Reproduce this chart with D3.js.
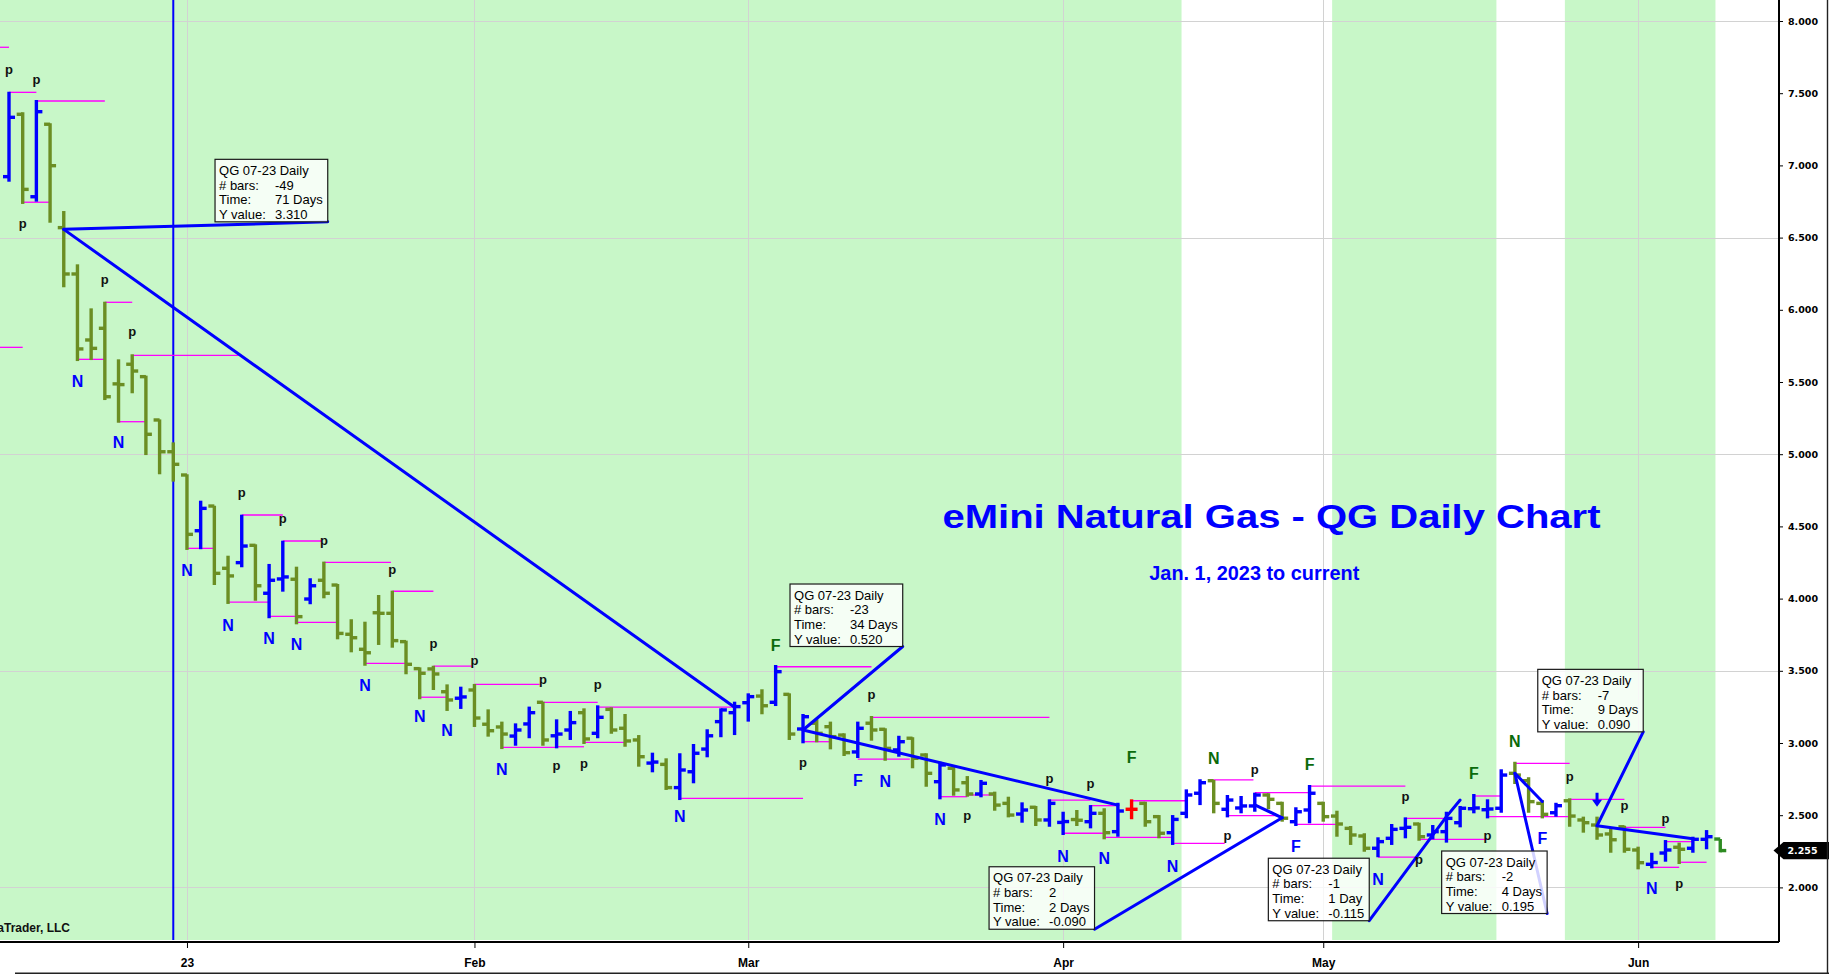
<!DOCTYPE html>
<html>
<head>
<meta charset="utf-8">
<title>eMini Natural Gas - QG Daily Chart</title>
<script src="https://cdnjs.cloudflare.com/ajax/libs/d3/7.8.5/d3.min.js"></script>
<style>
	body { margin: 0; background: #fff; overflow: hidden; }
	svg { display: block; font-family: "Liberation Sans", Arial, sans-serif; }
</style>
</head>
<body>
<script>
(function() {

	var width = 1829;
	var height = 974;
	var plotRight = 1779;
	var plotBottom = 940;

	// QG 07-23 daily bars, oldest first (index 13 = first session of 2023)
	var opens = [6.922,7.354,6.783,7.285,6.569,6.248,5.791,5.872,5.487,5.623,
		5.537,5.237,5.017,4.856,4.470,4.641,4.210,4.249,4.369,4.037,
		4.136,4.134,3.997,4.127,4.094,3.753,3.649,3.902,3.898,3.702,
		3.515,3.513,3.355,3.310,3.367,3.130,3.111,3.048,3.132,3.282,
		3.050,3.090,3.210,3.067,3.233,3.102,3.021,2.861,2.852,2.691,
		2.801,2.958,3.148,3.210,3.279,3.325,3.282,3.337,3.097,3.137,
		3.113,3.055,2.938,3.137,3.095,2.952,3.033,2.917,2.732,2.825,
		2.725,2.647,2.647,2.582,2.508,2.555,2.467,2.450,2.470,2.455,
		2.513,2.386,2.541,2.582,2.490,2.379,2.513,2.652,2.739,2.541,
		2.550,2.564,2.640,2.582,2.455,2.536,2.582,2.494,2.409,2.356,
		2.271,2.340,2.409,2.439,2.363,2.386,2.448,2.545,2.538,2.548,
		2.790,2.739,2.582,2.517,2.600,2.467,2.432,2.370,2.420,2.259,
		2.160,2.238,2.278,2.271,2.333,2.335];
	var highs = [7.510,7.368,7.453,7.292,6.684,6.315,6.010,6.056,5.657,5.692,
		5.544,5.241,5.082,4.861,4.678,4.643,4.297,4.581,4.376,4.240,
		4.401,4.221,4.141,4.256,4.101,3.857,3.840,4.025,4.055,3.709,
		3.524,3.535,3.406,3.390,3.409,3.233,3.148,3.136,3.252,3.286,
		3.164,3.222,3.240,3.261,3.247,3.201,3.055,2.933,2.894,2.929,
		2.993,3.095,3.240,3.286,3.344,3.372,3.540,3.344,3.201,3.164,
		3.148,3.067,3.148,3.187,3.102,3.050,3.040,2.929,2.870,2.836,
		2.771,2.744,2.663,2.628,2.589,2.564,2.610,2.524,2.536,2.570,
		2.548,2.586,2.610,2.593,2.501,2.501,2.679,2.749,2.744,2.640,
		2.633,2.656,2.652,2.593,2.555,2.709,2.593,2.531,2.425,2.375,
		2.347,2.439,2.485,2.448,2.432,2.524,2.564,2.647,2.610,2.818,
		2.870,2.763,2.605,2.586,2.617,2.490,2.490,2.409,2.427,2.282,
		2.240,2.328,2.310,2.351,2.397,2.335];
	var lows = [6.887,6.733,6.749,6.603,6.156,5.645,5.652,5.375,5.218,5.422,
		4.994,4.861,4.810,4.337,4.342,4.094,3.963,4.217,3.985,3.864,
		4.048,3.822,3.961,4.002,3.718,3.628,3.535,3.679,3.660,3.476,
		3.303,3.367,3.222,3.236,3.111,3.044,2.958,2.981,3.033,2.981,
		2.963,3.021,2.993,3.033,3.064,2.974,2.836,2.797,2.675,2.605,
		2.721,2.901,3.040,3.055,3.148,3.199,3.256,3.021,2.998,3.005,
		2.956,2.910,2.896,3.016,2.877,2.905,2.825,2.697,2.610,2.635,
		2.628,2.624,2.531,2.485,2.448,2.425,2.420,2.363,2.425,2.409,
		2.333,2.351,2.472,2.420,2.340,2.294,2.479,2.570,2.513,2.485,
		2.513,2.524,2.541,2.455,2.425,2.444,2.455,2.351,2.294,2.247,
		2.209,2.294,2.340,2.323,2.333,2.310,2.416,2.513,2.478,2.517,
		2.716,2.517,2.478,2.490,2.420,2.379,2.330,2.240,2.240,2.125,
		2.132,2.178,2.162,2.240,2.264,2.243];
	var closes = [7.333,6.834,7.372,6.998,6.248,5.729,5.733,5.398,5.482,5.576,
		5.138,5.017,4.930,4.445,4.625,4.175,4.157,4.364,4.089,4.127,
		4.150,3.875,4.089,4.037,3.759,3.729,3.625,3.898,3.709,3.545,
		3.483,3.478,3.298,3.319,3.173,3.085,3.062,3.090,3.210,3.021,
		3.062,3.141,3.028,3.178,3.090,3.014,2.905,2.868,2.691,2.813,
		2.929,3.050,3.229,3.252,3.321,3.258,3.494,3.062,3.182,3.067,
		3.044,2.933,3.102,3.090,2.963,3.009,2.894,2.790,2.848,2.675,
		2.647,2.721,2.570,2.501,2.536,2.467,2.582,2.456,2.465,2.513,
		2.379,2.529,2.541,2.455,2.375,2.471,2.640,2.725,2.582,2.605,
		2.564,2.640,2.610,2.479,2.524,2.652,2.490,2.439,2.363,2.271,
		2.317,2.402,2.416,2.351,2.386,2.478,2.548,2.550,2.543,2.778,
		2.778,2.594,2.506,2.566,2.494,2.448,2.363,2.330,2.264,2.171,
		2.172,2.259,2.264,2.333,2.351,2.255];
	var redBars = [82];
	var liveBar = 125;
	var lastPrice = 2.255;

	// axes
	var monthTicks = [13, 34, 54, 77, 96, 119];
	var monthLabels = ['23', 'Feb', 'Mar', 'Apr', 'May', 'Jun'];
	var priceTicks = [2, 2.5, 3, 3.5, 4, 4.5, 5, 5.5, 6, 6.5, 7, 7.5, 8];
	var gridPrices = [2, 3.5, 5, 6.5, 8];

	// session shading (bar ranges)
	var sessionFrom = [-2, 97, 114];
	var sessionTo = [85, 108, 124];

	// vertical marker line
	var markerBars = [12];

	// pivot lines (magenta)
	var pivotPrice = [7.818,7.506,7.446,6.745,5.740,6.052,5.657,5.685,5.225,4.348,
		4.579,3.975,4.399,3.877,4.251,3.836,4.051,3.552,3.533,3.317,
		3.406,2.970,3.282,2.974,3.249,3.005,2.617,3.528,3.009,2.889,
		3.178,2.628,2.640,2.605,2.375,2.566,2.347,2.600,2.305,2.744,
		2.497,2.656,2.437,2.702,2.209,2.478,2.333,2.633,2.490,2.859,
		2.610,2.416,2.139,2.317,2.174];
	var pivotFrom = [-1,0,2,1,-1,7,5,9,8,13,
		17,16,20,19,23,21,28,26,31,30,
		34,36,39,40,43,42,49,56,58,62,
		63,68,70,76,77,79,80,82,85,88,
		89,91,94,95,100,102,103,107,108,110,
		114,118,120,121,122];
	var pivotTo = [0,2,7,3,1,9,7,16.75,10,15,
		20,19,22.8,21,27.9,23.95,31,29,33.8,32,
		38.75,40,43,42,53,45,58,63,60,65.8,
		76,70,72,79,80,81,85,86,88.8,90.9,
		93,95,97,102,102.8,105,108,109,114,114,
		118,121,122,123,124];

	// signal letters
	var labelText = ['p','p','p','N','p','p','N','N','p','p',
		'p','N','N','N','p','N','p','p','N','N',
		'p','p','N','p','p','N','F','p','F','p',
		'N','N','p','p','p','N','N','F','N','N',
		'p','F','p','F','p','N','p','p','F','N',
		'F','p','p','p','N','p'];
	var labelBar = [0,2,1,5,7,9,8,13,17,20,
		23,16,19,21,28,26,31,34,30,32,
		39,43,36,40,42,49,56,58,62,63,
		64,68,70,76,79,77,80,82,85,88,
		91,95,89,94,102,100,103,108,107,110,
		112,114,118,121,120,122];
	var labelPrice = [7.649,7.580,6.580,5.507,6.195,5.830,5.080,4.193,4.718,4.537,
		4.387,3.817,3.725,3.686,4.186,3.402,3.674,3.552,3.183,3.089,
		3.424,3.390,2.818,2.825,2.843,2.490,3.679,2.848,2.744,3.317,
		2.732,2.474,2.478,2.739,2.704,2.219,2.201,2.901,2.150,2.894,
		2.797,2.855,2.340,2.286,2.612,2.058,2.178,2.340,2.794,3.009,
		2.340,2.751,2.552,2.460,1.994,2.010];
	// 0 = pivot, 1 = down signal, 2 = up signal
	var labelSignal = [0,0,0,1,0,0,1,1,0,0,
		0,1,1,1,0,1,0,0,1,1,
		0,0,1,0,0,1,2,0,1,0,
		1,1,0,0,0,1,1,2,1,2,
		0,2,0,1,0,1,0,0,2,2,
		1,0,0,0,1,0];

	var arrowBars = [116];
	var arrowPrice = [2.656];

	// ruler measurements
	var rulerFromBar = [4, 58, 93, 105, 110, 116];
	var rulerFromPrice = [6.557, 3.090, 2.482, 2.490, 2.790, 2.427];
	var rulerToBar = [53, 81, 91, 106, 112, 123];
	var rulerToPrice = [3.247, 2.570, 2.572, 2.605, 2.595, 2.337];
	var rulerBars = ['-49', '-23', '2', '-1', '-2', '-7'];
	var rulerTime = ['71 Days', '34 Days', '2 Days', '1 Day', '4 Days', '9 Days'];
	var rulerYValue = ['3.310', '0.520', '-0.090', '-0.115', '0.195', '0.090'];
	var boxBar = [15.05, 57.05, 71.59, 91.99, 104.65, 111.67];
	var boxPrice = [7.042, 4.101, 2.143, 2.202, 2.252, 3.510];

	var green = '#c8f7c8';
	var olive = '#6b8e23';
	var blue = '#0000ff';

	var x = d3.scaleLinear().domain([0, 125]).range([9, 9 + 125 * 13.69]);
	var y = d3.scaleLinear().domain([2, 8]).range([887.4, 21]);

	var svg = d3.select('body')
		.append('svg')
			.attr('width', width)
			.attr('height', height);

	svg.append('defs').append('clipPath').attr('id', 'plotclip')
		.append('rect')
			.attr('width', plotRight)
			.attr('height', plotBottom);

	var plot = svg.append('g').attr('clip-path', 'url(#plotclip)');

	// shading
	plot.selectAll('rect.session')
		.data(d3.range(sessionFrom.length))
		.join('rect')
			.attr('class', 'session')
			.attr('x', function(i) { return x(sessionFrom[i] - 0.35); })
			.attr('width', function(i) { return x(sessionTo[i] + 0.65) - x(sessionFrom[i] - 0.35); })
			.attr('y', 0)
			.attr('height', plotBottom)
			.style('fill', green);

	// grid
	plot.selectAll('line.hgrid')
		.data(gridPrices)
		.join('line')
			.attr('x1', 0)
			.attr('x2', plotRight)
			.attr('y1', function(d) { return Math.round(y(d)) + 0.5; })
			.attr('y2', function(d) { return Math.round(y(d)) + 0.5; })
			.style('stroke', '#d2d2d2')
			.style('stroke-width', 1);

	plot.selectAll('line.vgrid')
		.data(monthTicks)
		.join('line')
			.attr('x1', function(d) { return Math.round(x(d)) + 0.5; })
			.attr('x2', function(d) { return Math.round(x(d)) + 0.5; })
			.attr('y1', 0)
			.attr('y2', plotBottom)
			.style('stroke', '#d2d2d2')
			.style('stroke-width', 1);

	plot.selectAll('line.marker')
		.data(markerBars)
		.join('line')
			.attr('x1', function(d) { return x(d); })
			.attr('x2', function(d) { return x(d); })
			.attr('y1', 0)
			.attr('y2', plotBottom)
			.style('stroke', blue)
			.style('stroke-width', 2);

	// pivots
	plot.selectAll('line.pivot')
		.data(d3.range(pivotPrice.length))
		.join('line')
			.attr('x1', function(i) { return x(pivotFrom[i]); })
			.attr('x2', function(i) { return x(pivotTo[i]); })
			.attr('y1', function(i) { return y(pivotPrice[i]); })
			.attr('y2', function(i) { return y(pivotPrice[i]); })
			.style('stroke', '#ff00ff')
			.style('stroke-width', 1.3);

	// bars
	function barColour(i) {
		if (redBars.indexOf(i) >= 0) return '#ff0000';
		if (i === liveBar) return '#2e8b22';
		return closes[i] > opens[i] ? blue : olive;
	}

	var bars = plot.selectAll('g.bar')
		.data(d3.range(opens.length))
		.join('g')
			.attr('class', 'bar')
			.style('stroke', barColour)
			.style('stroke-width', 3.4);

	bars.append('line')
		.attr('x1', function(i) { return x(i); })
		.attr('x2', function(i) { return x(i); })
		.attr('y1', function(i) { return y(highs[i]); })
		.attr('y2', function(i) { return y(lows[i]); });
	bars.append('line')
		.attr('x1', function(i) { return x(i) - 6; })
		.attr('x2', function(i) { return x(i); })
		.attr('y1', function(i) { return y(opens[i]); })
		.attr('y2', function(i) { return y(opens[i]); });
	bars.append('line')
		.attr('x1', function(i) { return x(i); })
		.attr('x2', function(i) { return x(i) + 6; })
		.attr('y1', function(i) { return y(closes[i]); })
		.attr('y2', function(i) { return y(closes[i]); });

	// rulers
	var rulers = d3.range(rulerFromBar.length);

	plot.selectAll('line.measure')
		.data(rulers)
		.join('line')
			.attr('x1', function(i) { return x(rulerFromBar[i]); })
			.attr('y1', function(i) { return y(rulerFromPrice[i]); })
			.attr('x2', function(i) { return x(rulerToBar[i]); })
			.attr('y2', function(i) { return y(rulerToPrice[i]); })
			.style('stroke', blue)
			.style('stroke-width', 3)
			.style('stroke-linecap', 'round');

	var boxes = plot.selectAll('g.rbox')
		.data(rulers)
		.join('g')
			.attr('class', 'rbox')
			.attr('transform', function(i) { return 'translate(' + x(boxBar[i]) + ',' + y(boxPrice[i]) + ')'; });

	var boxH = 62.5;
	boxes.each(function(i) {
		var b = d3.select(this);
		var rect = b.append('rect').attr('height', boxH);
		var rows = [['QG 07-23 Daily', ''], ['# bars:', rulerBars[i]], ['Time:', rulerTime[i]], ['Y value:', rulerYValue[i]]];
		var widest = 0;
		rows.forEach(function(r, k) {
			b.append('text')
				.attr('x', 4)
				.attr('y', 15.5 + k * 14.7)
				.style('font-size', '13px')
				.text(r[0]);
			if (r[1]) {
				var t = b.append('text')
					.attr('x', 60)
					.attr('y', 15.5 + k * 14.7)
					.style('font-size', '13px')
					.text(r[1]);
				widest = Math.max(widest, t.node().getComputedTextLength());
			}
		});
		this.boxW = Math.max(60 + widest + 5, 99);
		rect.attr('width', this.boxW);
	});

	// connectors go under the boxes
	var connectors = plot.insert('g', 'g.rbox');
	boxes.each(function(i) {
		connectors.append('line')
			.attr('x1', x(rulerFromBar[i]))
			.attr('y1', y(rulerFromPrice[i]))
			.attr('x2', x(boxBar[i]) + this.boxW)
			.attr('y2', y(boxPrice[i]) + boxH)
			.style('stroke', blue)
			.style('stroke-width', 3)
			.style('stroke-linecap', 'round');
	});

	boxes.select('rect')
		.style('fill', 'rgba(255,255,255,0.82)')
		.style('stroke', '#1a1a1a')
		.style('stroke-width', 1.2);
	boxes.selectAll('text').style('fill', '#000');

	// signal letters
	var signalColour = ['#111', blue, '#0b6b0b'];
	plot.selectAll('text.sig')
		.data(d3.range(labelText.length))
		.join('text')
			.attr('class', 'sig')
			.attr('x', function(i) { return x(labelBar[i]); })
			.attr('y', function(i) { return y(labelPrice[i]); })
			.attr('dy', function(i) { return labelSignal[i] === 0 ? '0.16em' : '0.36em'; })
			.attr('text-anchor', 'middle')
			.style('font-weight', 'bold')
			.style('font-size', function(i) { return labelSignal[i] === 0 ? '13px' : '16px'; })
			.style('fill', function(i) { return signalColour[labelSignal[i]]; })
			.text(function(i) { return labelText[i]; });

	// down arrow
	plot.selectAll('path.arrow')
		.data(d3.range(arrowBars.length))
		.join('path')
			.attr('transform', function(i) { return 'translate(' + x(arrowBars[i]) + ',' + y(arrowPrice[i]) + ')'; })
			.attr('d', 'M-1.5,0H1.5V7H5L0,14L-5,7H-1.5Z')
			.style('fill', blue);

	// titles
	svg.append('text')
		.attr('x', 1271.5)
		.attr('y', 527.7)
		.attr('text-anchor', 'middle')
		.attr('textLength', 658)
		.attr('lengthAdjust', 'spacingAndGlyphs')
		.style('font-size', '34px')
		.style('font-weight', 'bold')
		.style('fill', blue)
		.text('eMini Natural Gas - QG Daily Chart');

	svg.append('text')
		.attr('x', 1254.3)
		.attr('y', 580)
		.attr('text-anchor', 'middle')
		.attr('textLength', 210)
		.attr('lengthAdjust', 'spacingAndGlyphs')
		.style('font-size', '19.5px')
		.style('font-weight', 'bold')
		.style('fill', blue)
		.text('Jan. 1, 2023 to current');

	svg.append('text')
		.attr('x', 70)
		.attr('y', 931.7)
		.attr('text-anchor', 'end')
		.style('font-size', '12px')
		.style('font-weight', 'bold')
		.style('fill', '#111')
		.text('\u00a9 2023 NinjaTrader, LLC');

	// axes
	var yAxis = d3.axisRight(y)
		.tickValues(priceTicks)
		.tickFormat(d3.format('.3f'))
		.tickSize(4)
		.tickSizeOuter(0)
		.tickPadding(5);

	var gy = svg.append('g')
		.attr('transform', 'translate(' + plotRight + ',0)')
		.call(yAxis);
	gy.select('.domain').attr('d', 'M0,0V' + (plotBottom + 2)).style('stroke', '#000').style('stroke-width', 2);
	gy.selectAll('.tick line').style('stroke', '#000');
	gy.selectAll('.tick text')
		.style('font-family', '"DejaVu Sans", Verdana, sans-serif')
		.style('font-size', '9.5px')
		.style('font-weight', 'bold')
		.style('fill', '#000');

	var xAxis = d3.axisBottom(x)
		.tickValues(monthTicks)
		.tickFormat(function(d, i) { return monthLabels[i]; })
		.tickSize(6)
		.tickSizeOuter(0)
		.tickPadding(10);

	var gx = svg.append('g')
		.attr('transform', 'translate(0,' + (plotBottom + 2) + ')')
		.call(xAxis);
	gx.select('.domain').attr('d', 'M0,0H' + plotRight).style('stroke', '#000').style('stroke-width', 2);
	gx.selectAll('.tick line').style('stroke', '#000');
	gx.selectAll('.tick text')
		.style('font-family', '"Liberation Sans", Arial, sans-serif')
		.style('font-size', '12px')
		.style('font-weight', 'bold')
		.style('fill', '#000');

	// last price flag
	var flag = svg.append('g').attr('transform', 'translate(' + (plotRight - 5.5) + ',' + y(lastPrice) + ')');
	flag.append('path')
		.attr('d', 'M0,0L10,-8.7H56V8.7H10Z')
		.style('fill', '#000');
	flag.append('text')
		.attr('x', 14)
		.attr('dy', '0.36em')
		.style('font-family', '"DejaVu Sans", Verdana, sans-serif')
		.style('font-size', '9.5px')
		.style('font-weight', 'bold')
		.style('fill', '#fff')
		.text(d3.format('.3f')(lastPrice));

	// frame
	svg.append('line')
		.attr('x1', 15).attr('x2', width)
		.attr('y1', 973.3).attr('y2', 973.3)
		.style('stroke', '#222').style('stroke-width', 1.4);
	svg.append('line')
		.attr('x1', width - 1.5).attr('x2', width - 1.5)
		.attr('y1', 0).attr('y2', height)
		.style('stroke', '#222').style('stroke-width', 1.4);

})();
</script>
</body>
</html>
